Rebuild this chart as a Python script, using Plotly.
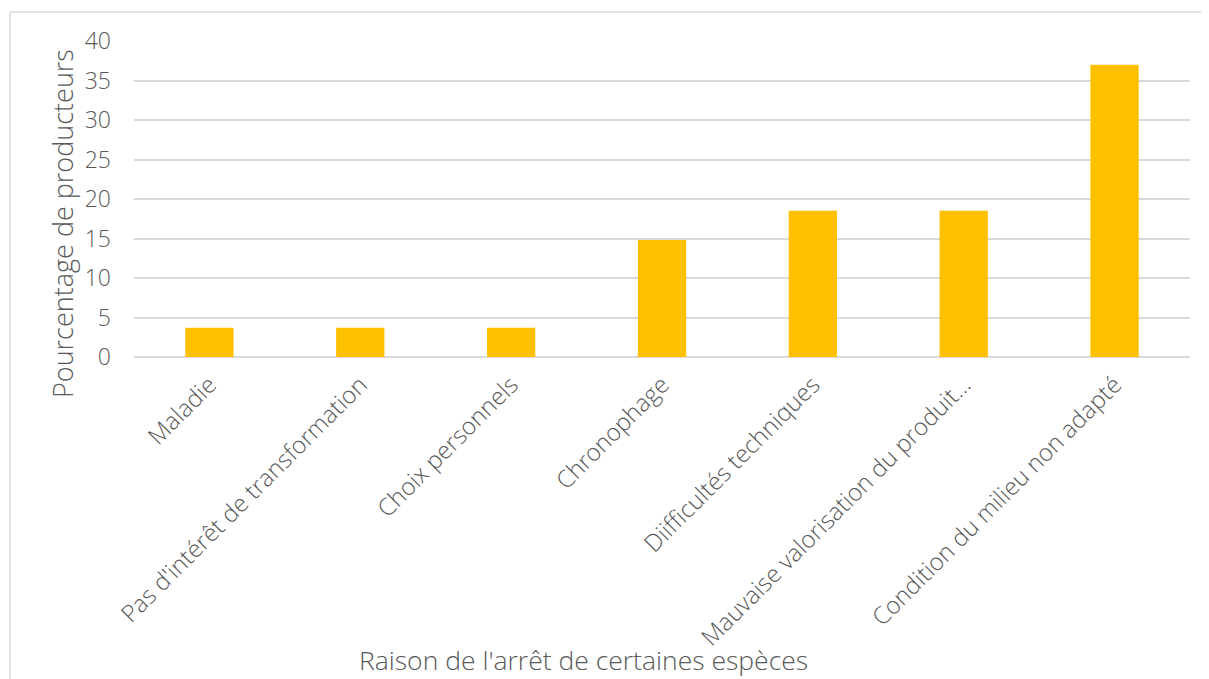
import plotly.graph_objects as go

raisons = [
    "Maladie",
    "Pas d'intérêt de transformation",
    "Choix personnels",
    "Chronophage",
    "Diifficultés techniques",
    "Mauvaise valorisation du produit…",
    "Condition du milieu non adapté",
]
pourcentages = [3.7, 3.7, 3.7, 14.8, 18.5, 18.5, 37.0]

y_ticks = [0, 5, 10, 15, 20, 25, 30, 35, 40]

gris = "#595959"
police = "'Open Sans', sans-serif"

# la page ajoute ~8 px de marge autour du graphique
W, H = 1201, 671
l, t, r, b = 126, 33, 19, 322
pw, ph = W - l - r, H - t - b

fig = go.Figure()
fig.add_trace(go.Bar(
    x=raisons, y=pourcentages,
    marker={"color": "#FFC000", "line": {"width": 0}},
    hoverinfo="x+y",
))

fig.update_layout(
    width=W, height=H,
    margin={"l": l, "r": r, "t": t, "b": b, "autoexpand": False},
    paper_bgcolor="white", plot_bgcolor="white",
    bargap=0.68,
    showlegend=False,
    font={"family": police, "color": gris, "weight": 300},
    xaxis={
        "tickangle": -45, "tickfont": {"size": 24, "color": gris, "weight": 300},
        "showgrid": False, "showline": False, "ticks": "",
        "ticklabelstandoff": 8,
        "automargin": False,
    },
    yaxis={
        "range": [0, 40], "tickvals": y_ticks,
        "tickfont": {"size": 23, "color": gris, "weight": 300},
        "showgrid": True, "gridcolor": "#D9D9D9", "gridwidth": 1.5,
        "zeroline": True, "zerolinecolor": "#D9D9D9", "zerolinewidth": 1.5,
        "showline": False, "ticks": "", "ticklen": 0,
        "ticklabelstandoff": 22,
        "automargin": False,
    },
    shapes=[{
        "type": "rect", "xref": "paper", "yref": "paper",
        "x0": (2 - l) / pw, "x1": (1199 - l) / pw,
        "y0": -(b + 10) / ph, "y1": (ph + t - 4) / ph,
        "line": {"color": "#D9D9D9", "width": 1.5},
    }],
    annotations=[
        {
            "text": "Raison de l'arrêt de certaines espèces",
            "xref": "paper", "yref": "paper",
            "x": (575 - l) / pw, "y": -(652 - t - ph) / ph,
            "xanchor": "center", "yanchor": "middle", "showarrow": False,
            "font": {"size": 26.5, "color": gris, "weight": 300},
        },
        {
            "text": "Pourcentage de producteurs",
            "xref": "paper", "yref": "paper",
            "x": (54 - l) / pw, "y": (t + ph - 216) / ph,
            "xanchor": "center", "yanchor": "middle", "showarrow": False,
            "textangle": -90,
            "font": {"size": 27, "color": gris, "weight": 300},
        },
    ],
)

fig.write_html("out.html")
